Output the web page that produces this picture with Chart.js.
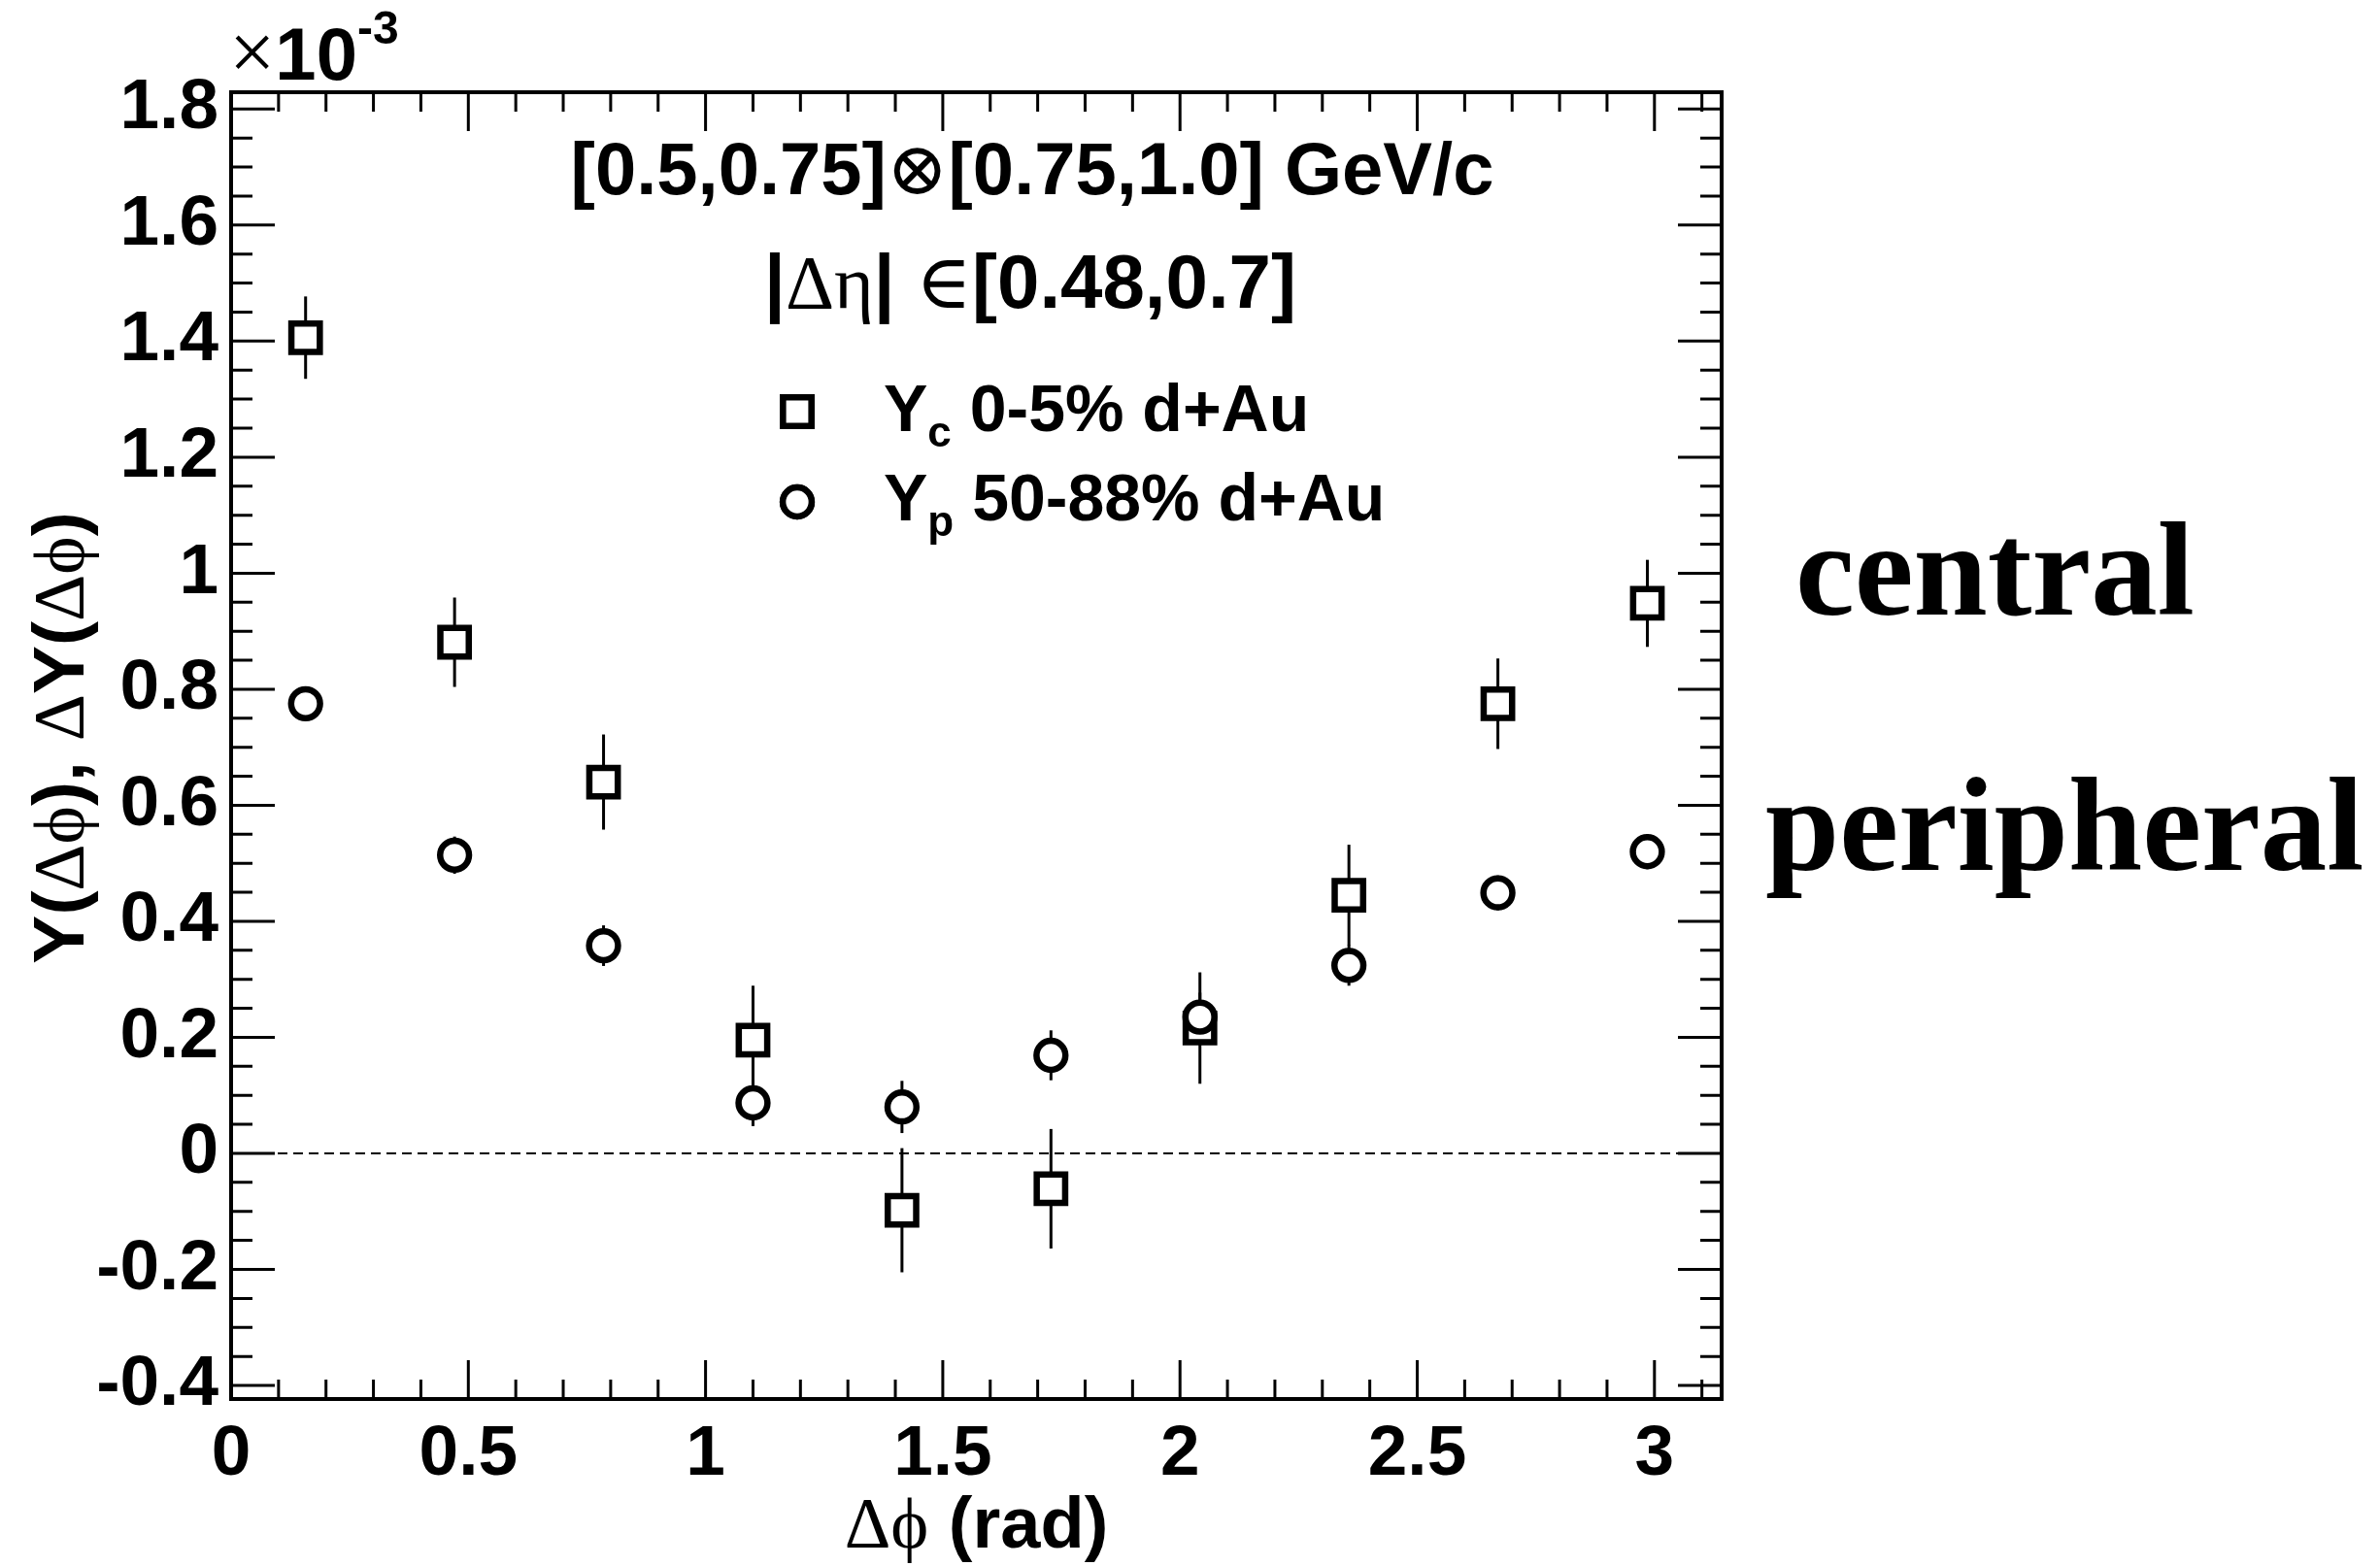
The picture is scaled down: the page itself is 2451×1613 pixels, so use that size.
<!DOCTYPE html>
<html>
<head>
<meta charset="utf-8">
<script src="https://cdn.jsdelivr.net/npm/chart.js@4.4.0/dist/chart.umd.min.js"></script>
<style>
    html, body { margin: 0; padding: 0; background: #fff; }
</style>
</head>
<body>
<canvas id="chart" width="2451" height="1613"></canvas>
<script>
// Delta-phi bin centres (rad)
const dphi = [0.157, 0.471, 0.785, 1.100, 1.414, 1.728, 2.042, 2.356, 2.670, 2.985];
// Y_c 0-5% d+Au (x 10^-3)
const yCentral = [1.406, 0.881, 0.640, 0.195, -0.098, -0.061, 0.216, 0.445, 0.775, 0.948];
const yCentralErr = [0.071, 0.077, 0.082, 0.094, 0.107, 0.103, 0.096, 0.087, 0.078, 0.075];
// Y_p 50-88% d+Au (x 10^-3)
const yPeriph = [0.775, 0.514, 0.358, 0.087, 0.080, 0.169, 0.235, 0.324, 0.449, 0.520];
const yPeriphErr = [0.028, 0.032, 0.035, 0.040, 0.045, 0.043, 0.042, 0.035, 0.030, 0.030];

const xTickValues = [0, 0.5, 1, 1.5, 2, 2.5, 3];
const yTickValues = [-0.4, -0.2, 0, 0.2, 0.4, 0.6, 0.8, 1, 1.2, 1.4, 1.6, 1.8];
const xRange = [0, 3.1416];
const yRange = [-0.4234, 1.829];

const BOLD = size => `bold ${size}px "Liberation Sans", Arial, sans-serif`;
const SYM = size => `${size}px "Liberation Serif", "DejaVu Serif", serif`;
const PHI = '\u03d5';

// draw a line of mixed-font text runs: [text, font, dy]
function drawRuns(ctx, runs, x, y, align) {
    let w = 0;
    runs.forEach(r => { ctx.font = r[1]; w += ctx.measureText(r[0]).width; });
    let cx = align === 'center' ? x - w / 2 : (align === 'right' ? x - w : x);
    runs.forEach(r => {
        ctx.font = r[1];
        ctx.fillText(r[0], cx, y + (r[2] || 0));
        cx += ctx.measureText(r[0]).width;
    });
}

const markerStyle = {
    rect: { radius: 20.7, border: 6.5 },
    circle: { radius: 14.9, border: 6.5 }
};

const rootStyle = {
    id: 'rootStyle',
    beforeDatasetsDraw(chart) {
        const ctx = chart.ctx;
        const xs = chart.scales.x, ys = chart.scales.y;
        const area = chart.chartArea;
        ctx.save();
        // dashed zero line
        ctx.strokeStyle = '#000';
        ctx.lineWidth = 2;
        ctx.setLineDash([10, 6]);
        const y0 = ys.getPixelForValue(0);
        ctx.beginPath();
        ctx.moveTo(area.left, y0);
        ctx.lineTo(area.right, y0);
        ctx.stroke();
        ctx.setLineDash([]);
        // error bars
        ctx.lineWidth = 3;
        const series = [[yCentral, yCentralErr], [yPeriph, yPeriphErr]];
        series.forEach(([vals, errs]) => {
            vals.forEach((v, i) => {
                const px = xs.getPixelForValue(dphi[i]);
                ctx.beginPath();
                ctx.moveTo(px, ys.getPixelForValue(v - errs[i]));
                ctx.lineTo(px, ys.getPixelForValue(v + errs[i]));
                ctx.stroke();
            });
        });
        ctx.restore();
    },
    afterDraw(chart) {
        const ctx = chart.ctx;
        const xs = chart.scales.x, ys = chart.scales.y;
        const a = chart.chartArea;
        ctx.save();
        ctx.strokeStyle = '#000';
        ctx.fillStyle = '#000';

        // ticks on all four sides, pointing inwards
        ctx.lineWidth = 3;
        ctx.beginPath();
        for (let k = 0; k <= 31; k++) {
            const px = xs.getPixelForValue(k / 10);
            const len = k % 5 === 0 ? 40 : 20;
            ctx.moveTo(px, a.bottom); ctx.lineTo(px, a.bottom - len);
            ctx.moveTo(px, a.top); ctx.lineTo(px, a.top + len);
        }
        for (let k = -8; k <= 36; k++) {
            const py = ys.getPixelForValue(k * 0.05);
            const len = k % 4 === 0 ? 45 : 22;
            ctx.moveTo(a.left, py); ctx.lineTo(a.left + len, py);
            ctx.moveTo(a.right, py); ctx.lineTo(a.right - len, py);
        }
        ctx.stroke();

        // frame
        ctx.lineWidth = 4;
        ctx.strokeRect(a.left, a.top, a.right - a.left, a.bottom - a.top);

        ctx.textBaseline = 'alphabetic';
        ctx.textAlign = 'left';

        // x10^-3 exponent
        drawRuns(ctx, [['\u00d7', SYM(84)], ['10', BOLD(76)], ['-3', BOLD(48), -37]], a.left - 2, 82, 'left');

        // header texts
        drawRuns(ctx, [['[0.5,0.75]', BOLD(76)], ['\u2297', SYM(76)], ['[0.75,1.0] GeV/c', BOLD(76)]], 1063, 200, 'center');
        drawRuns(ctx, [['|', BOLD(78)], ['\u0394\u03b7', SYM(78)], ['| ', BOLD(78)], ['\u2208', SYM(78)], ['[0.48,0.7]', BOLD(78)]], 1061, 317, 'center');

        // legend
        const h = Chart.helpers;
        ctx.lineWidth = markerStyle.rect.border;
        ctx.fillStyle = '#fff';
        h.drawPoint(ctx, { pointStyle: 'rect', radius: markerStyle.rect.radius, borderWidth: markerStyle.rect.border }, 821, 424);
        ctx.fill(); ctx.stroke();
        h.drawPoint(ctx, { pointStyle: 'circle', radius: markerStyle.circle.radius, borderWidth: markerStyle.circle.border }, 821, 517);
        ctx.fill(); ctx.stroke();
        ctx.fillStyle = '#000';
        drawRuns(ctx, [['Y', BOLD(68)], ['c', BOLD(44), 16], [' 0-5% d+Au', BOLD(68)]], 910, 444, 'left');
        drawRuns(ctx, [['Y', BOLD(68)], ['p', BOLD(44), 16], [' 50-88% d+Au', BOLD(68)]], 910, 536, 'left');

        // axis titles
        drawRuns(ctx, [['\u0394' + PHI, SYM(74)], [' (rad)', BOLD(74)]], (a.left + a.right) / 2, 1594, 'center');
        ctx.save();
        ctx.translate(86, (a.top + a.bottom) / 2 - 8);
        ctx.rotate(-Math.PI / 2);
        drawRuns(ctx, [
            ['Y(', BOLD(75)], ['\u0394' + PHI, SYM(75)], ['), ', BOLD(75)],
            ['\u0394', SYM(75)], ['Y(', BOLD(75)], ['\u0394' + PHI, SYM(75)], [')', BOLD(75)]
        ], 0, 0, 'center');
        ctx.restore();

        // side annotations
        ctx.font = 'bold 137px "Liberation Serif", serif';
        ctx.fillText('central', 1849, 633);
        ctx.fillText('peripheral', 1818, 896);
        ctx.restore();
    }
};

const tickFont = { family: '"Liberation Sans", Arial, sans-serif', weight: 'bold', size: 73 };

new Chart(document.getElementById('chart'), {
    type: 'scatter',
    data: {
        datasets: [
            {
                label: 'Y_p 50-88% d+Au',
                data: dphi.map((x, i) => ({ x, y: yPeriph[i] })),
                pointStyle: 'circle',
                pointRadius: markerStyle.circle.radius,
                pointBorderWidth: markerStyle.circle.border,
                pointBorderColor: '#000',
                pointBackgroundColor: '#fff',
                showLine: false,
                order: 0
            },
            {
                label: 'Y_c 0-5% d+Au',
                data: dphi.map((x, i) => ({ x, y: yCentral[i] })),
                pointStyle: 'rect',
                pointRadius: markerStyle.rect.radius,
                pointBorderWidth: markerStyle.rect.border,
                pointBorderColor: '#000',
                pointBackgroundColor: '#fff',
                showLine: false,
                order: 1
            }
        ]
    },
    options: {
        responsive: false,
        animation: false,
        devicePixelRatio: 1,
        layout: { padding: { left: 0, right: 678, top: 95, bottom: 0 } },
        plugins: {
            legend: { display: false },
            tooltip: { enabled: false }
        },
        scales: {
            x: {
                type: 'linear',
                min: xRange[0],
                max: xRange[1],
                afterBuildTicks: s => { s.ticks = xTickValues.map(v => ({ value: v })); },
                afterFit: s => { s.height = 172; },
                grid: { display: false, drawTicks: false },
                border: { display: false },
                ticks: {
                    font: tickFont, color: '#000', padding: 14,
                    maxRotation: 0, autoSkip: false,
                    callback: v => String(v)
                }
            },
            y: {
                type: 'linear',
                min: yRange[0],
                max: yRange[1],
                afterBuildTicks: s => { s.ticks = yTickValues.map(v => ({ value: v })); },
                afterFit: s => { s.width = 238; },
                grid: { display: false, drawTicks: false },
                border: { display: false },
                ticks: {
                    font: tickFont, color: '#000', padding: 13,
                    autoSkip: false,
                    callback: v => String(v)
                }
            }
        }
    },
    plugins: [rootStyle]
});
</script>
</body>
</html>
